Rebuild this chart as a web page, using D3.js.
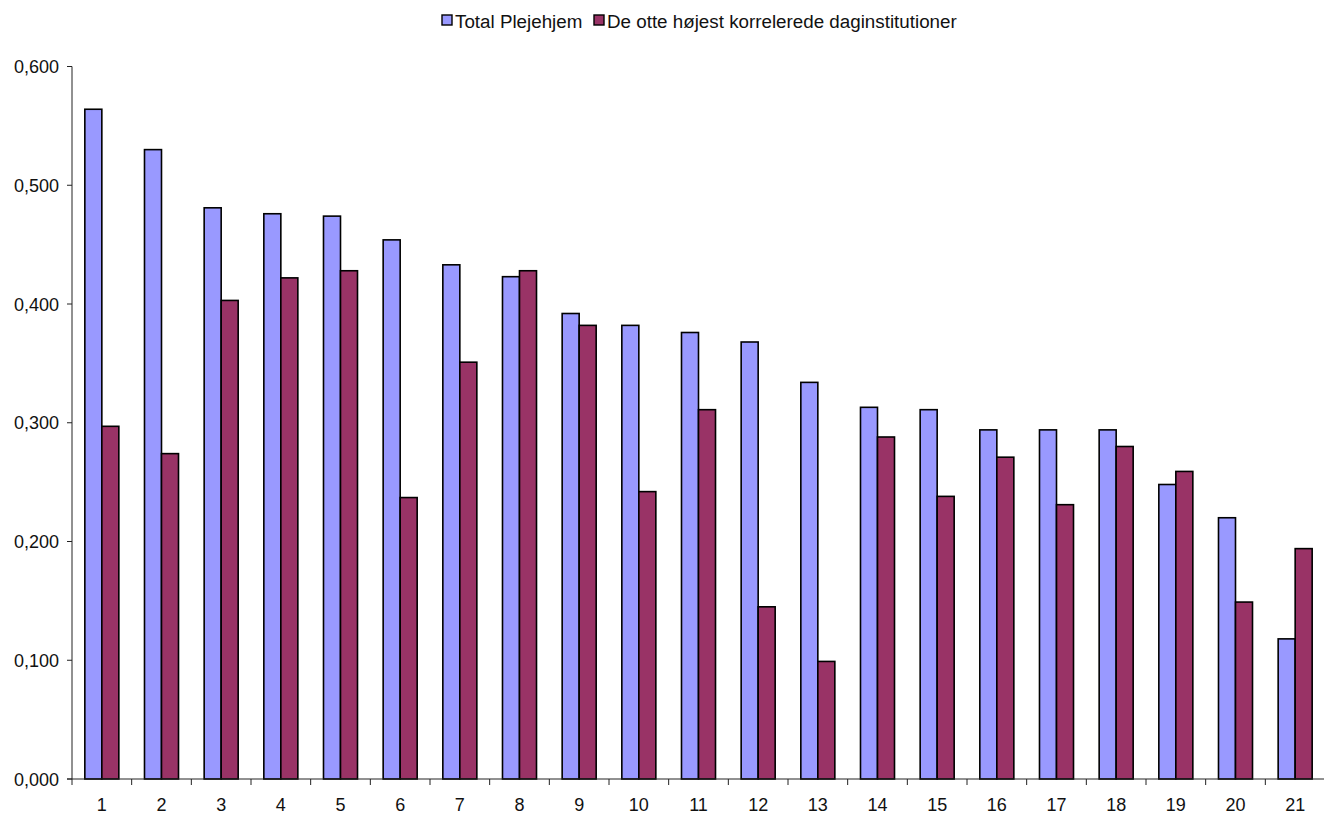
<!DOCTYPE html>
<html>
<head>
<meta charset="utf-8">
<script src="https://cdn.jsdelivr.net/npm/d3@7"></script>
<style>
	body { margin: 0; background: #fff; }
	svg { display: block; font-family: "Liberation Sans", Arial, sans-serif; }
</style>
</head>
<body>
<div id="chart"></div>
<script>
var categories = ["1", "2", "3", "4", "5", "6", "7", "8", "9", "10", "11",
		"12", "13", "14", "15", "16", "17", "18", "19", "20", "21"];
var seriesNames = ["Total Plejehjem", "De otte højest korrelerede daginstitutioner"];
var totalPlejehjem = [0.564, 0.530, 0.481, 0.476, 0.474, 0.454, 0.433, 0.423,
		0.392, 0.382, 0.376, 0.368, 0.334, 0.313, 0.311, 0.294, 0.294, 0.294,
		0.248, 0.220, 0.118];
var daginstitutioner = [0.297, 0.274, 0.403, 0.422, 0.428, 0.237, 0.351, 0.428,
		0.382, 0.242, 0.311, 0.145, 0.099, 0.288, 0.238, 0.271, 0.231, 0.280,
		0.259, 0.149, 0.194];
var yTicks = [0, 0.1, 0.2, 0.3, 0.4, 0.5, 0.6];
var colors = ["#9999ff", "#993366"];

function createChart(div) {
	var width = 1324, height = 814;
	var svg = d3.select("#" + div).append("svg").attr("width", width)
			.attr("height", height);

	var left = 72, right = 1325, top = 66.5, bottom = 779;

	var x = d3.scaleBand().domain(categories).range([ left, right ])
			.paddingInner(0.43).paddingOuter(0.215);
	var xInner = d3.scaleBand().domain([ 0, 1 ]).range([ 0, x.bandwidth() ]);
	var y = d3.scaleLinear().domain([ 0, 0.6 ]).range([ bottom, top ]);

	var locale = d3.formatLocale({ decimal: ",", thousands: ".", grouping: [ 3 ], currency: [ "", " kr" ] });
	var fmt = locale.format(".3f");

	// bars
	var series = [ totalPlejehjem, daginstitutioner ];
	series.forEach(function(values, s) {
		svg.append("g").selectAll("rect").data(values).enter().append("rect")
				.attr("x", function(d, i) {
					return x(categories[i]) + xInner(s);
				}).attr("y", function(d) {
					return y(d);
				}).attr("width", xInner.bandwidth()).attr("height",
						function(d) {
							return bottom - y(d);
						}).attr("fill", colors[s]).attr("stroke", "#000")
				.attr("stroke-width", 1.6);
	});

	// y axis
	var yAxis = svg.append("g").attr("transform", "translate(" + left + ",0)");
	yAxis.append("line").attr("x1", 0).attr("x2", 0).attr("y1", top).attr("y2",
			bottom).attr("stroke", "#222");
	yTicks.forEach(function(t) {
		yAxis.append("line").attr("x1", -5).attr("x2", 0).attr("y1", y(t))
				.attr("y2", y(t)).attr("stroke", "#222");
		yAxis.append("text").attr("x", -13).attr("y", y(t) + 6.5).attr(
				"text-anchor", "end").attr("font-size", 18).attr("fill", "#111")
				.text(fmt(t));
	});

	// x axis
	var xAxis = svg.append("g");
	xAxis.append("line").attr("x1", left - 5).attr("x2", right).attr("y1",
			bottom).attr("y2", bottom).attr("stroke", "#222");
	categories.forEach(function(c, i) {
		var bx = left + i * x.step();
		xAxis.append("line").attr("x1", bx).attr("x2", bx).attr("y1", bottom)
				.attr("y2", bottom + 6).attr("stroke", "#222");
		xAxis.append("text").attr("x", x(c) + x.bandwidth() / 2).attr("y",
				bottom + 32).attr("text-anchor", "middle").attr("font-size", 18)
				.attr("fill", "#111").text(c);
	});

	// legend
	var legend = svg.append("g");
	var lx = [ 442, 594 ];
	seriesNames.forEach(function(name, s) {
		legend.append("rect").attr("x", lx[s]).attr("y", 15).attr("width", 10)
				.attr("height", 10).attr("fill", colors[s]).attr("stroke", "#000")
				.attr("stroke-width", 1.4);
		legend.append("text").attr("x", lx[s] + 13).attr("y", 28).attr(
				"font-size", 18.8).attr("fill", "#111").text(name);
	});
}

createChart("chart");
</script>
</body>
</html>
